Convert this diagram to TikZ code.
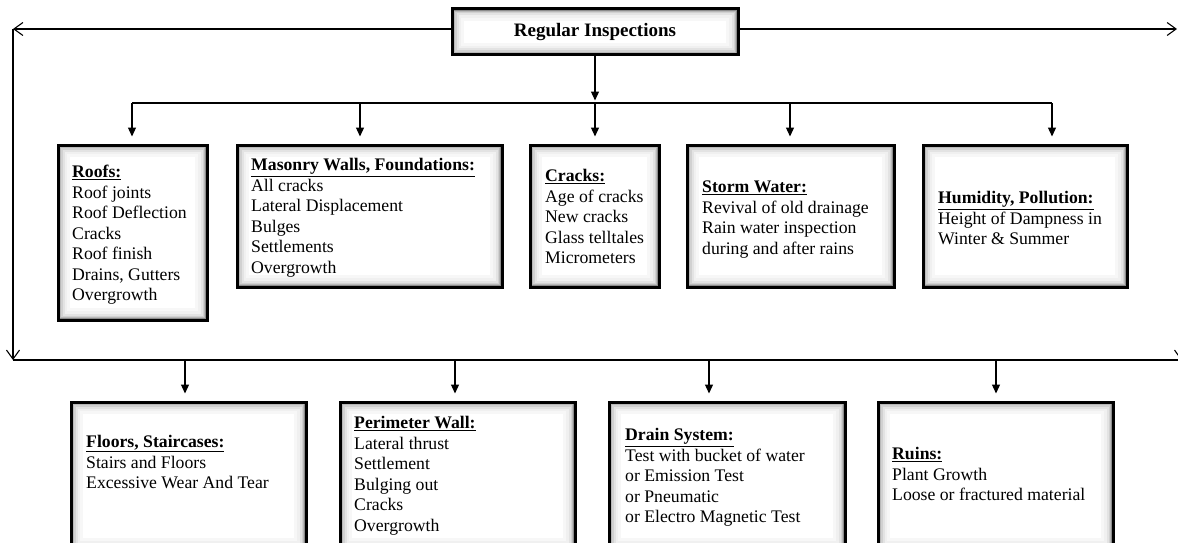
\documentclass[tikz,border=0pt]{standalone}
\usepackage{fontspec}
\setmainfont{Liberation Serif}
\usetikzlibrary{arrows.meta}
\tikzset{vb/.tip={Straight Barb[length=9pt,width=13pt]}}
\begin{document}
\begin{tikzpicture}[x=1pt,y=-1pt,
  box/.style={draw=black, line width=3pt, fill=white, inner sep=0pt,
    path picture={
      \foreach \w/\c in {24/3,18/6,13/11,9/18,6/28,3.5/45}{
        \draw[line width=\w pt, black!\c]
          (path picture bounding box.south west) rectangle
          (path picture bounding box.north east);}
    }},
  txt/.style={anchor=base west, inner sep=0pt, font=\fontsize{17.7}{20.5}\selectfont},
  lead/.style={line width=1.1pt},
  link/.style={line width=1.3pt, -{Triangle[length=9pt,width=8pt]}}
]
\useasboundingbox (0,0) rectangle (1178,543);

% boxes
\node[box, minimum width=286pt, minimum height=46pt] (top) at (595,32)
  {\fontsize{19}{22}\selectfont\textbf{Regular Inspections}};

\node[box, minimum width=149pt, minimum height=175pt] (roofs)  at (132.5,232.5) {};
\node[box, minimum width=265pt, minimum height=142pt] (mason)  at (369.5,216) {};
\node[box, minimum width=129pt, minimum height=142pt] (cracks) at (594.5,216) {};
\node[box, minimum width=207pt, minimum height=142pt] (storm)  at (790.5,216) {};
\node[box, minimum width=204pt, minimum height=142pt] (humid)  at (1025,216) {};

\node[box, minimum width=235pt, minimum height=148pt] (floors) at (188.5,476) {};
\node[box, minimum width=235pt, minimum height=148pt] (perim)  at (457.5,476) {};
\node[box, minimum width=236pt, minimum height=148pt] (drain)  at (727,476) {};
\node[box, minimum width=235pt, minimum height=148pt] (ruins)  at (995.5,476) {};

% box contents
\node[txt] (roofsT) at (72,177.5) {\begin{tabular}[t]{@{}l@{}}
  \underline{\textbf{Roofs:}}\\ Roof joints\\ Roof Deflection\\ Cracks\\
  Roof finish\\ Drains, Gutters\\ Overgrowth\end{tabular}};
\node[txt] (masonT) at (251,170.5) {\begin{tabular}[t]{@{}l@{}}
  \underline{\textbf{Masonry Walls, Foundations:}}\\ All cracks\\
  Lateral Displacement\\ Bulges\\ Settlements\\ Overgrowth\end{tabular}};
\node[txt] (cracksT) at (545,181.5) {\begin{tabular}[t]{@{}l@{}}
  \underline{\textbf{Cracks:}}\\ Age of cracks\\ New cracks\\
  Glass telltales\\ Micrometers\end{tabular}};
\node[txt] (stormT) at (702,192.5) {\begin{tabular}[t]{@{}l@{}}
  \underline{\textbf{Storm Water:}}\\ Revival of old drainage\\
  Rain water inspection\\ during and after rains\end{tabular}};
\node[txt] (humidT) at (938,203.5) {\begin{tabular}[t]{@{}l@{}}
  \underline{\textbf{Humidity, Pollution:}}\\ Height of Dampness in\\
  Winter \& Summer\end{tabular}};

\node[txt] (floorsT) at (86,447.5) {\begin{tabular}[t]{@{}l@{}}
  \underline{\textbf{Floors, Staircases:}}\\ Stairs and Floors\\
  Excessive Wear And Tear\end{tabular}};
\node[txt] (perimT) at (354,428.5) {\begin{tabular}[t]{@{}l@{}}
  \underline{\textbf{Perimeter Wall:}}\\ Lateral thrust\\ Settlement\\
  Bulging out\\ Cracks\\ Overgrowth\end{tabular}};
\node[txt] (drainT) at (625,440.5) {\begin{tabular}[t]{@{}l@{}}
  \underline{\textbf{Drain System:}}\\ Test with bucket of water\\
  or Emission Test\\ or Pneumatic\\ or Electro Magnetic Test\end{tabular}};
\node[txt] (ruinsT) at (892,459.5) {\begin{tabular}[t]{@{}l@{}}
  \underline{\textbf{Ruins:}}\\ Plant Growth\\ Loose or fractured material\end{tabular}};

% outer loop
\coordinate (tl) at (13,29);
\coordinate (tr) at (1177,29);
\coordinate (lowL) at (13,360);
\coordinate (lowR) at (1181,360);
\coordinate (rt) at (1181,29);

\draw[lead, vb-] (tl) -- (top.west |- tl);
\draw[lead, -vb] (top.east |- tr) -- (tr);
\draw[lead, -vb] (tl) -- (lowL);
\draw[lead, -vb] (rt) -- (lowR);
\draw[lead] (lowL) -- (lowR);

% upper distribution
\coordinate (hub) at (595,103);
\draw[link, shorten >=2.5pt] (top.south) -- (hub);
\draw[lead] (132,103) -- (1052,103);
\foreach \x/\n in {132/roofs,360/mason,595/cracks,790/storm,1052/humid}{
  \coordinate (d) at (\x,103);
  \draw[link, shorten >=7pt] (d) -- (d |- \n.north);
}

% lower distribution
\foreach \x/\n in {185/floors,455/perim,709/drain,996/ruins}{
  \coordinate (d) at (\x,360);
  \draw[link, shorten >=7pt] (d) -- (d |- \n.north);
}
\end{tikzpicture}
\end{document}
